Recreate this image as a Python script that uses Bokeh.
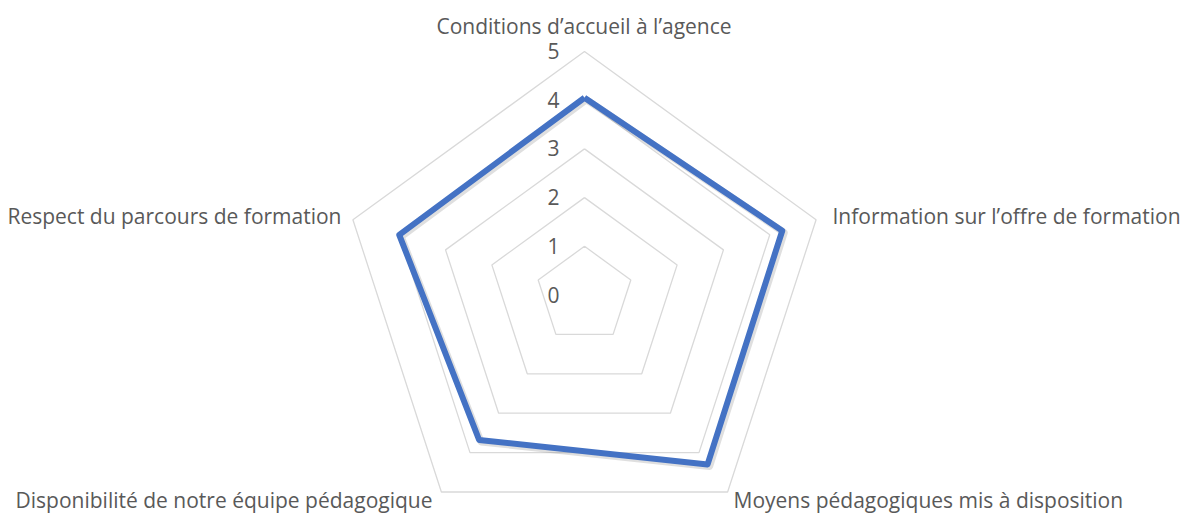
import math
from bokeh.plotting import figure
from bokeh.models import Range1d, ColumnDataSource
from bokeh.core.properties import value
from bokeh.embed import file_html
from bokeh.resources import INLINE

categories = [
    "Conditions d\u2019accueil \u00e0 l\u2019agence",
    "Information sur  l\u2019offre de formation",
    "Moyens p\u00e9dagogiques mis \u00e0 disposition",
    "Disponibilit\u00e9 de notre \u00e9quipe p\u00e9dagogique",
    "Respect du parcours de formation",
]
scores = [4.05, 4.27, 4.3, 3.68, 4.0]
ticks = [0, 1, 2, 3, 4, 5]

W, H = 1183, 514
UNIT = 48.7            # pixels per scale unit
CX, CY = 584.0, 294.5  # centre in figure pixels (from top-left)

x0 = -CX / UNIT
x1 = (W - CX) / UNIT
y1 = CY / UNIT
y0 = -(H - CY) / UNIT

def py(pix):
    """convert a pixel row (from top) into data units"""
    return (CY - pix) / UNIT

def px(pix):
    return (pix - CX) / UNIT

p = figure(width=W, height=H, output_backend="svg", toolbar_location=None,
           x_range=Range1d(x0, x1), y_range=Range1d(y0, y1),
           min_border=0, outline_line_color=None)
p.axis.visible = False
p.grid.visible = False
p.background_fill_color = "white"
p.border_fill_color = "white"

n = len(categories)
angles = [math.pi / 2 - 2 * math.pi * i / n for i in range(n)]

# grid rings
for t in ticks[1:]:
    xs = [t * math.cos(a) for a in angles] + [t * math.cos(angles[0])]
    ys = [t * math.sin(a) for a in angles] + [t * math.sin(angles[0])]
    p.line(xs, ys, line_color="#D9D9D9", line_width=1.3)

# data polygon (with a soft shadow)
dx = [s * math.cos(a) for s, a in zip(scores, angles)]
dy = [s * math.sin(a) for s, a in zip(scores, angles)]
dx.append(dx[0]); dy.append(dy[0])
off = 2.0 / UNIT
p.line([x + off for x in dx], [y - off for y in dy], line_color="#7F7F7F",
       line_alpha=0.25, line_width=7, line_join="round")
p.line(dx, dy, line_color="#4472C4", line_width=6, line_join="round")

# tick labels
p.text(x=[px(553)] * len(ticks), y=[t + 0.01 for t in ticks], text=[str(t) for t in ticks],
       text_font=value("Open Sans"), text_font_size="21px", text_color="#595959",
       text_align="center", text_baseline="middle")

# category labels (alphabetic baseline)
lab_x = [px(583.5), px(832), px(733), px(432), px(341)]
lab_y = [py(25), py(215), py(499), py(499), py(215)]
aligns = ["center", "left", "left", "right", "right"]

src = ColumnDataSource(dict(x=lab_x, y=lab_y, text=categories, align=aligns))
p.text(x="x", y="y", text="text", text_align="align", source=src,
       text_font=value("Open Sans"), text_font_size="21px", text_color="#595959",
       text_baseline="alphabetic")

open("out.html", "w").write(file_html(p, INLINE))
